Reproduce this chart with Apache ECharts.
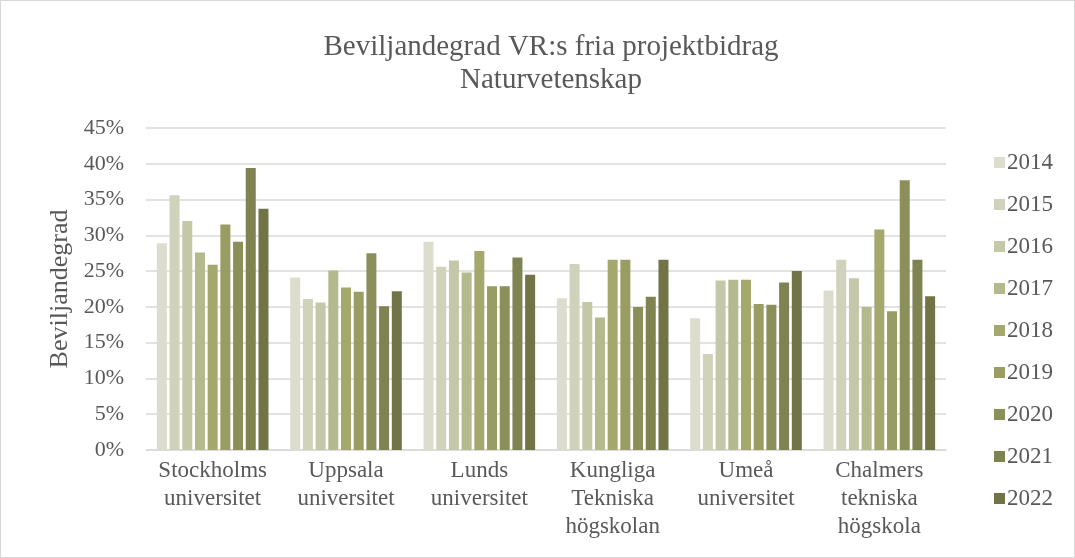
<!DOCTYPE html>
<html lang="sv">
<head>
<meta charset="UTF-8">
<title>Beviljandegrad VR:s fria projektbidrag</title>
<style>
  html, body { margin: 0; padding: 0; background: #fff; }
  #main { width: 1073px; height: 556px; border: 1px solid #d9d9d9; }
</style>
</head>
<body>
<div id="main"></div>
<script src="https://cdn.jsdelivr.net/npm/echarts@6/dist/echarts.min.js"></script>
<script>
var categories = ['Stockholms\nuniversitet', 'Uppsala\nuniversitet', 'Lunds\nuniversitet',
  'Kungliga\nTekniska\nhögskolan', 'Umeå\nuniversitet', 'Chalmers\ntekniska\nhögskola'];
var years = ['2014', '2015', '2016', '2017', '2018', '2019', '2020', '2021', '2022'];
// en rad per år, ett värde per lärosäte (i procent)
var v2014 = [28.9, 24.1, 29.1, 21.2, 18.4, 22.3];
var v2015 = [35.6, 21.1, 25.6, 26.0, 13.4, 26.6];
var v2016 = [32.0, 20.6, 26.5, 20.7, 23.7, 24.0];
var v2017 = [27.6, 25.1, 24.8, 18.5, 23.8, 20.0];
var v2018 = [25.9, 22.7, 27.8, 26.6, 23.8, 30.8];
var v2019 = [31.5, 22.1, 22.9, 26.6, 20.4, 19.4];
var v2020 = [29.1, 27.5, 22.9, 20.0, 20.3, 37.7];
var v2021 = [39.4, 20.1, 26.9, 21.4, 23.4, 26.6];
var v2022 = [33.7, 22.2, 24.5, 26.6, 25.0, 21.5];
var values = [v2014, v2015, v2016, v2017, v2018, v2019, v2020, v2021, v2022];
var colors = ['#dcddcd', '#d0d2bb', '#c5c8a8', '#b4b98e', '#a4a86c', '#999d63', '#8b8f5a', '#7f8352', '#707447'];

var font = '"Liberation Serif", "Times New Roman", serif';
var grey = '#595959';

var series = years.map(function (y, i) {
  return {
    name: y,
    type: 'bar',
    barWidth: 10,
    barGap: '27%',
    itemStyle: { color: colors[i] },
    data: values[i]
  };
});

var myChart = echarts.init(document.getElementById('main'));
myChart.setOption({
  animation: false,
  textStyle: { fontFamily: font, color: grey },
  title: {
    text: 'Beviljandegrad VR:s fria projektbidrag\nNaturvetenskap',
    left: 545,
    textAlign: 'center',
    top: 25,
    textStyle: { fontFamily: font, fontSize: 29, fontWeight: 'normal', color: grey, lineHeight: 33 }
  },
  legend: {
    orient: 'vertical',
    left: 988,
    top: 145,
    itemWidth: 11,
    itemHeight: 11,
    itemGap: 19,
    icon: 'rect',
    data: years,
    textStyle: { fontFamily: font, fontSize: 23, color: grey, padding: [0, 0, 0, -3] }
  },
  grid: { left: 145, right: 128, top: 127, bottom: 107 },
  xAxis: {
    type: 'category',
    data: categories,
    axisTick: { show: false },
    axisLine: { lineStyle: { color: '#d9d9d9', width: 1.5 } },
    axisLabel: { interval: 0, fontFamily: font, fontSize: 23, color: grey, lineHeight: 28, margin: 7 }
  },
  yAxis: {
    type: 'value',
    min: 0,
    max: 45,
    interval: 5,
    name: 'Beviljandegrad',
    nameLocation: 'middle',
    nameGap: 72,
    nameTextStyle: { fontFamily: font, fontSize: 26, color: grey },
    axisLabel: { formatter: '{value}%', fontFamily: font, fontSize: 22, color: grey, margin: 22 },
    splitLine: { lineStyle: { color: '#d9d9d9', width: 1.5 } }
  },
  series: series
});
</script>
</body>
</html>
